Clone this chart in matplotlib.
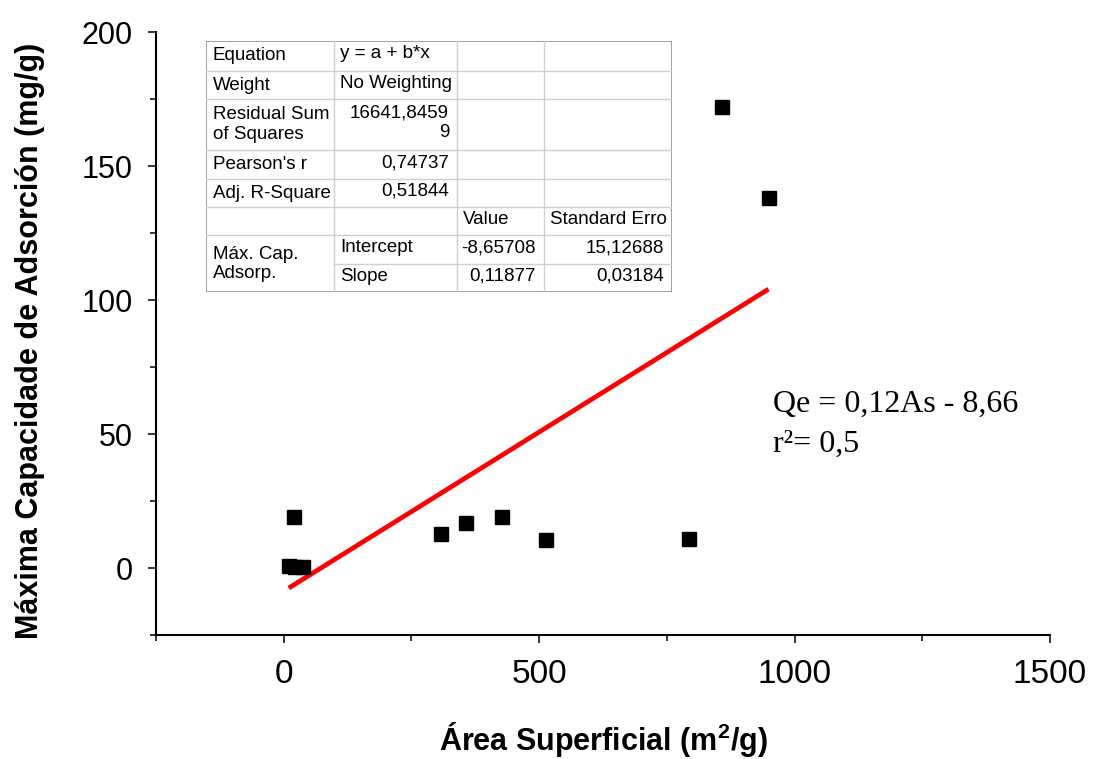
import matplotlib
matplotlib.use("Agg")
import matplotlib.pyplot as plt
from matplotlib import font_manager
from matplotlib.ticker import MultipleLocator

# surface area (m2/g) vs maximum adsorption capacity (mg/g)
area = [10, 22, 38, 20, 308, 357, 427, 514, 794, 857, 949]
qmax = [0.8, 0.5, 0.3, 19.0, 12.7, 16.8, 19.0, 10.4, 10.8, 172.0, 138.0]

# linear fit results
intercept = -8.65708
slope = 0.11877

eq_lines = ["Qe = 0,12As - 8,66", "r\u00b2= 0,5"]

# fit report table
col_edges = [206, 334, 457, 544, 672]
row_edges = [41, 71, 99, 150, 179, 207, 235, 264, 292]
left_col = ["Equation", "Weight", "Residual Sum\nof Squares", "Pearson's r",
            "Adj. R-Square", "", "Máx. Cap.\nAdsorp."]
second_col = ["y = a + b*x", "No Weighting", "16641,8459\n9", "0,74737",
              "0,51844", "", "Intercept", "Slope"]
head_row = ["Value", "Standard Erro"]
values = ["-8,65708", "0,11877"]
errors = ["15,12688", "0,03184"]

names = {f.name for f in font_manager.fontManager.ttflist}
sans = "Liberation Sans" if "Liberation Sans" in names else "DejaVu Sans"
narrow = "Liberation Sans Narrow" if "Liberation Sans Narrow" in names else sans
serif = "Liberation Serif" if "Liberation Serif" in names else "DejaVu Serif"

plt.rcParams["font.family"] = sans
plt.rcParams["mathtext.fontset"] = "custom"
plt.rcParams["mathtext.rm"] = narrow
plt.rcParams["mathtext.bf"] = narrow + ":bold"

W, H = 1095, 759
fig = plt.figure(figsize=(W / 100, H / 100), dpi=100)
ax = fig.add_axes([156 / W, 1 - 635 / H, (1050 - 156) / W, (635 - 32) / H])

ax.plot(area, qmax, "s", color="black", ms=9.5, zorder=3)
xs = [min(area), max(area)]
ax.plot(xs, [intercept + slope * x for x in xs], color="red", lw=3.4, zorder=2,
        solid_capstyle="butt")

ax.set_xlim(-250, 1500)
ax.set_ylim(-25, 200)
ax.xaxis.set_major_locator(MultipleLocator(500))
ax.xaxis.set_minor_locator(MultipleLocator(250))
ax.yaxis.set_major_locator(MultipleLocator(50))
ax.yaxis.set_minor_locator(MultipleLocator(25))
for s in ["top", "right"]:
    ax.spines[s].set_visible(False)
for s in ["left", "bottom"]:
    ax.spines[s].set_linewidth(1.5)
ax.tick_params(which="major", length=6, width=1.1, direction="out")
ax.tick_params(which="minor", length=4, width=1.1, direction="out")
ax.tick_params(axis="y", labelsize=22, pad=11)
ax.tick_params(axis="x", pad=11)
for lab in ax.get_xticklabels():
    lab.set_fontfamily(narrow)
    lab.set_fontsize(24)

fig.text(30 / W, 1 - 341 / H, "Máxima Capacidade de Adsorción (mg/g)",
         rotation=90, ha="center", va="center", fontsize=22, fontweight="bold")
fig.text(603 / W, 1 - 750 / H, r"Área Superficial (m$^{\mathbf{2}}$/g)",
         ha="center", va="baseline", fontsize=22, fontweight="bold",
         fontfamily=narrow)

for i, line in enumerate(eq_lines):
    fig.text(773 / W, 1 - (412 + 40 * i) / H, line, ha="left", va="baseline",
             fontsize=23, fontfamily=serif)

# fit report drawn in pixel units
tab = fig.add_axes([col_edges[0] / W, 1 - row_edges[-1] / H,
                    (col_edges[-1] - col_edges[0]) / W,
                    (row_edges[-1] - row_edges[0]) / H])
tab.set_xlim(col_edges[0], col_edges[-1])
tab.set_ylim(row_edges[-1], row_edges[0])
tab.axis("off")
tab.add_patch(plt.Rectangle((col_edges[0], row_edges[0]),
                            col_edges[-1] - col_edges[0],
                            row_edges[-1] - row_edges[0],
                            facecolor="white", edgecolor="#909090", lw=1.2))
grid = "#cfcfcf"
for y in row_edges[1:-1]:
    x0 = col_edges[1] if y == row_edges[7] else col_edges[0]
    tab.plot([x0, col_edges[-1]], [y, y], color=grid, lw=1)
for x in col_edges[1:-1]:
    tab.plot([x, x], [row_edges[0], row_edges[-1]], color=grid, lw=1)

fs = 13.5
mid = [(a + b) / 2 for a, b in zip(row_edges[:-1], row_edges[1:])]
for r, t in enumerate(left_col):
    yc = row_edges[7] if r == 6 else mid[r]
    tab.text(col_edges[0] + 7, yc, t, ha="left", va="center", fontsize=fs,
             linespacing=1.2)
for r, t in enumerate(second_col):
    if r in (0, 1, 6, 7):
        tab.text(col_edges[1] + 6, mid[r] - 2, t, ha="left", va="center", fontsize=fs)
    else:
        tab.text(col_edges[2] - 8, mid[r] - 2, t, ha="right", va="center",
                 fontsize=fs, linespacing=1.2, multialignment="right")
tab.text(col_edges[2] + 6, mid[5] - 1, head_row[0], ha="left", va="center", fontsize=fs)
tab.text(col_edges[3] + 6, mid[5] - 1, head_row[1], ha="left", va="center", fontsize=fs)
for k in range(2):
    tab.text(col_edges[3] - 8, mid[6 + k] - 2, values[k], ha="right", va="center", fontsize=fs)
    tab.text(col_edges[4] - 8, mid[6 + k] - 2, errors[k], ha="right", va="center", fontsize=fs)

fig.savefig("out.png", dpi=100)
